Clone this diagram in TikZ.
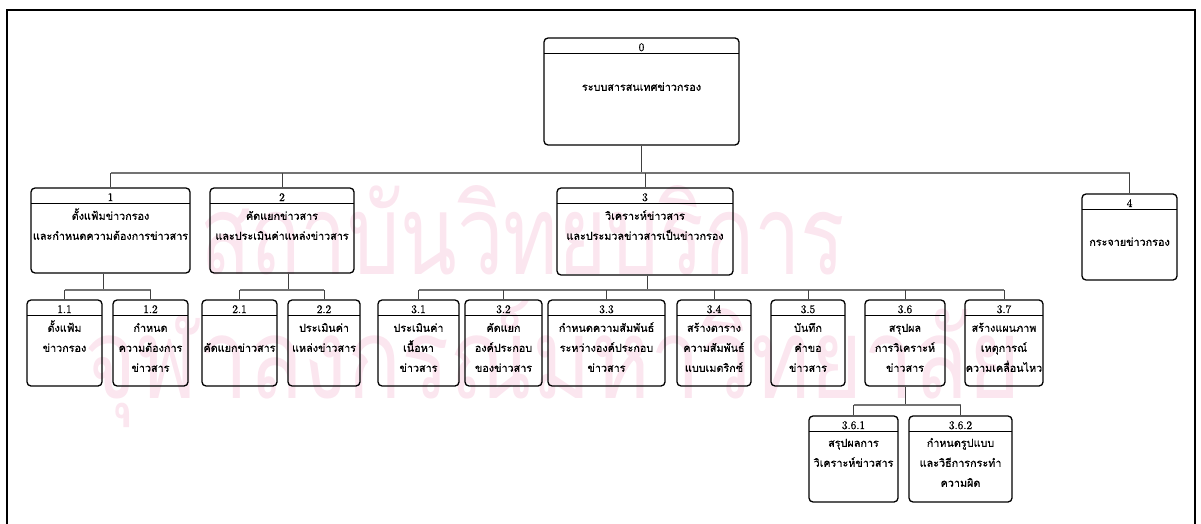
\documentclass[tikz,border=0pt]{standalone}
\usepackage{fontspec}
\newfontfamily\thai[Script=Thai,FakeBold=0.6]{Loma}
\newfontfamily\thaiplain[Script=Thai]{Loma}
\newfontfamily\numfont[FakeBold=1.2]{Latin Modern Roman}
\definecolor{wmark}{RGB}{251,230,239}
\tikzset{
  box/.style={draw=black, line width=1.3pt, rounded corners=4pt, inner sep=0pt},
  headline/.style={draw=black, line width=1.2pt},
  link/.style={draw=black!75, line width=1pt},
  bus/.style={draw=black!55, line width=1.8pt},
  numlbl/.style={font=\numfont\fontsize{11.5}{11.5}\selectfont, inner sep=0pt, anchor=base},
  txtlbl/.style={font=\thai\fontsize{10.8}{10.8}\selectfont, inner sep=0pt, anchor=base},
}
% process box: name, left, top, right, bottom, number, first-line offset, lines
\newcommand\procbox[8]{%
  \node[box, minimum width={#4-#2}, minimum height={#5-#3}] (#1) at ({(#2+#4)/2},{(#3+#5)/2}) {};
  \draw[headline] (#2,{#3+15.5}) -- (#4,{#3+15.5});
  \node[numlbl] (#1-num) at ({(#2+#4)/2},{#3+13}) {#6};
  \foreach \ln [count=\k from 0] in {#8}
    \node[txtlbl] (#1-l\k) at ({(#2+#4)/2},{#3+#7+3.8+20*\k}) {\ln};
}
\begin{document}
\begin{tikzpicture}[x=1pt,y=-1pt]
\useasboundingbox (0,0) rectangle (1201,524);
% background watermark
\node[inner sep=0pt, anchor=base west, text=wmark] (wm1) at (200,274)
  {\resizebox{645pt}{89pt}{\thaiplain สถาบันวิทยบริการ}};
\node[inner sep=0pt, anchor=base west, text=wmark] (wm2) at (84,398)
  {\resizebox{936pt}{98pt}{\thaiplain จุฬาลงกรณ์มหาวิทยาลัย}};
% page frame
\draw[line width=2pt] (6.5,524) -- (6.5,10.5) -- (1194.5,10.5) -- (1194.5,524);

% boxes
\procbox{n0}{544}{38}{739}{145}{0}{49}{ระบบสารสนเทศข่าวกรอง}
\procbox{n1}{31}{188}{190}{273}{1}{28}{ตั้งแฟ้มข่าวกรอง,และกำหนดความต้องการข่าวสาร}
\procbox{n2}{210}{188}{354}{273}{2}{28}{คัดแยกข่าวสาร,และประเมินค่าแหล่งข่าวสาร}
\procbox{n3}{557}{188}{733}{275}{3}{28}{วิเคราะห์ข่าวสาร,และประมวลข่าวสารเป็นข่าวกรอง}
\procbox{n4}{1082}{194}{1177}{280}{4}{48}{กระจายข่าวกรอง}
\procbox{n11}{27}{300}{102}{386}{1.1}{28}{ตั้งแฟ้ม,ข่าวกรอง}
\procbox{n12}{113}{300}{188}{386}{1.2}{28}{กำหนด,ความต้องการ,ข่าวสาร}
\procbox{n21}{202}{300}{277}{386}{2.1}{48}{คัดแยกข่าวสาร}
\procbox{n22}{288}{300}{360}{386}{2.2}{28}{ประเมินค่า,แหล่งข่าวสาร}
\procbox{n31}{378}{300}{459}{386}{3.1}{28}{ประเมินค่า,เนื้อหา,ข่าวสาร}
\procbox{n32}{465}{300}{542}{386}{3.2}{28}{คัดแยก,องค์ประกอบ,ของข่าวสาร}
\procbox{n33}{548}{300}{665}{386}{3.3}{28}{กำหนดความสัมพันธ์,ระหว่างองค์ประกอบ,ข่าวสาร}
\procbox{n34}{677}{300}{751}{386}{3.4}{28}{สร้างตาราง,ความสัมพันธ์,แบบเมตริกซ์}
\procbox{n35}{771}{300}{845}{386}{3.5}{28}{บันทึก,คำขอ,ข่าวสาร}
\procbox{n36}{865}{300}{945}{386}{3.6}{28}{สรุปผล,การวิเคราะห์,ข่าวสาร}
\procbox{n37}{965}{300}{1043}{386}{3.7}{28}{สร้างแผนภาพ,เหตุการณ์,ความเคลื่อนไหว}
\procbox{n361}{809}{416}{898}{502}{3.6.1}{27}{สรุปผลการ,วิเคราะห์ข่าวสาร}
\procbox{n362}{909}{416}{1012}{502}{3.6.2}{27}{กำหนดรูปแบบ,และวิธีการกระทำ,ความผิด}

% bus points
\coordinate (b0) at (645,173);
\coordinate (b1) at (103,290);
\coordinate (b2) at (288,290);
\coordinate (b3) at (647,290);
\coordinate (b36) at (905,405);

% level 0 -> level 1
\draw[link] (n0.south) -- (n0.south |- b0);
\draw[bus] (n1.north |- b0) -- (n4.north |- b0);
\foreach \n in {n1,n2,n3,n4}
  \draw[link] (\n.north) -- (\n.north |- b0);

% level 1 -> level 2
\draw[link] (n1.south -| b1) -- (b1);
\draw[bus, line width=1.4pt] (n11.north |- b1) -- (n12.north |- b1);
\foreach \n in {n11,n12}
  \draw[link] (\n.north) -- (\n.north |- b1);

\draw[link] (n2.south -| b2) -- (b2);
\draw[bus, line width=1.4pt] (n21.north |- b2) -- (n22.north |- b2);
\foreach \n in {n21,n22}
  \draw[link] (\n.north) -- (\n.north |- b2);

\draw[link] (n3.south -| b3) -- (b3);
\draw[bus, line width=1.4pt] (n31.north |- b3) -- (n37.north |- b3);
\foreach \n in {n31,n32,n33,n34,n35,n36,n37}
  \draw[link] (\n.north) -- (\n.north |- b3);

% level 2 -> level 3
\draw[link] (n36.south) -- (b36);
\draw[bus, line width=1.4pt] (n361.north |- b36) -- (n362.north |- b36);
\foreach \n in {n361,n362}
  \draw[link] (\n.north) -- (\n.north |- b36);
\end{tikzpicture}
\end{document}
